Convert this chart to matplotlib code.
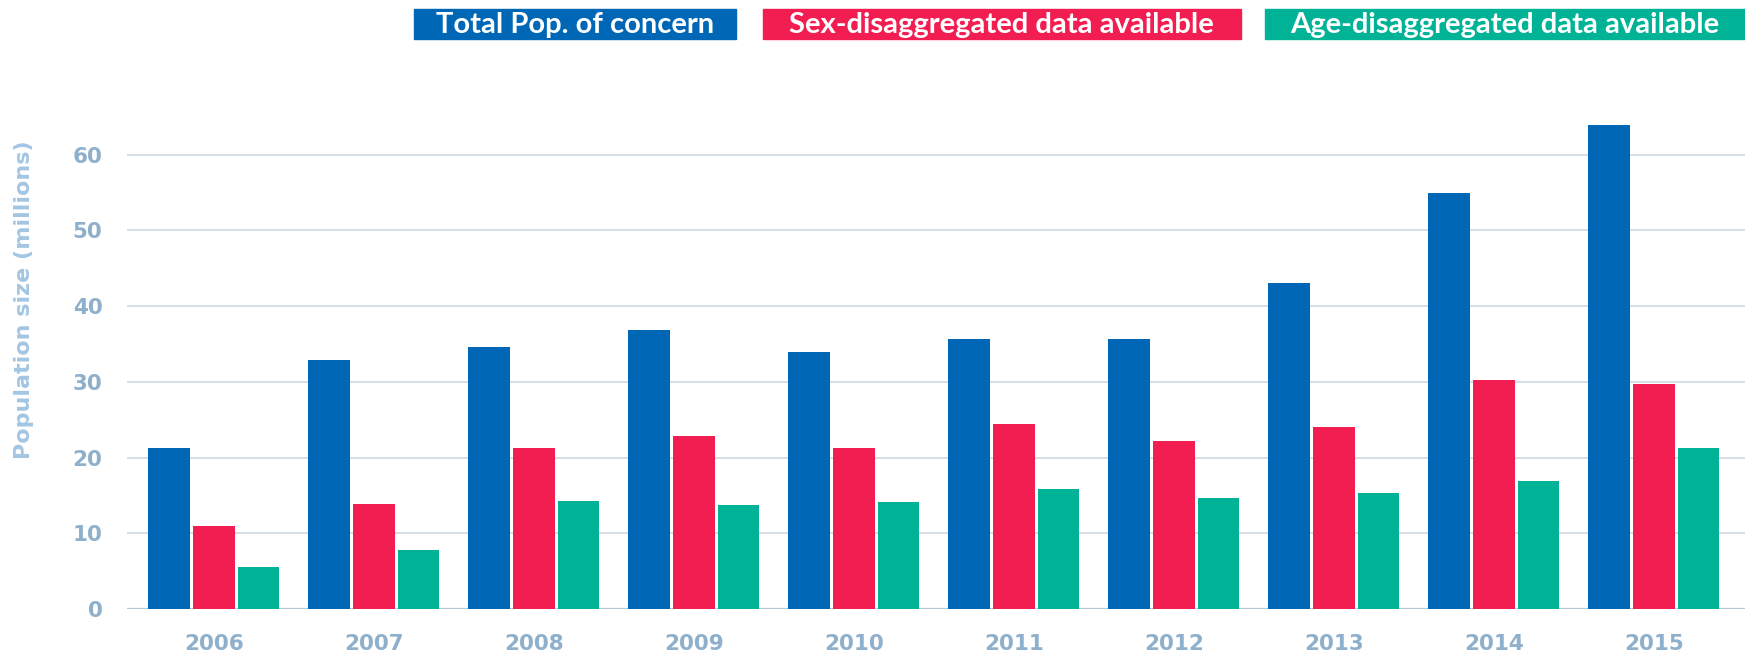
import numpy as np
import matplotlib
matplotlib.use("Agg")
import matplotlib.pyplot as plt
from matplotlib.patches import Rectangle

# %%
years = ["2006", "2007", "2008", "2009", "2010", "2011", "2012", "2013", "2014", "2015"]
total_pop = [21.2, 32.9, 34.6, 36.8, 34.0, 35.6, 35.6, 43.1, 54.9, 64.0]
sex_data = [11.0, 13.8, 21.2, 22.8, 21.2, 24.4, 22.2, 24.0, 30.3, 29.7]
age_data = [5.6, 7.8, 14.3, 13.7, 14.1, 15.9, 14.7, 15.3, 16.9, 21.2]
series_names = ["Total Pop. of concern", "Sex-disaggregated data available",
                "Age-disaggregated data available"]
yticks = [0, 10, 20, 30, 40, 50, 60]

blue = "#0067b6"
red = "#f21d51"
green = "#00b396"
tick_col = "#8fb0cc"
grid_col = "#cdd9e3"

plt.rcParams['font.family'] = ['DejaVu Sans']

# %%
fig = plt.figure(figsize=(17.45, 6.59), dpi=100)
ax = fig.add_axes([0.073, 0.076, 0.927, 0.758])

x = np.arange(len(years))
w = 0.26
step = 0.28
ax.bar(x - step, total_pop, w, color=blue, zorder=3)
ax.bar(x, sex_data, w, color=red, zorder=3)
ax.bar(x + step, age_data, w, color=green, zorder=3)

ax.set_xlim(-0.54, 9.57)
ax.set_ylim(0, 66)
ax.set_yticks(yticks)
ax.set_xticks(x)
ax.set_xticklabels(years)
ax.yaxis.grid(True, color=grid_col, linewidth=1.2, zorder=0)
ax.axhline(0, color="#b9c7d3", linewidth=1.6, zorder=2)
for s in ax.spines.values():
    s.set_visible(False)
ax.tick_params(axis="both", length=0, labelsize=15.5, labelcolor=tick_col)
ax.tick_params(axis="x", pad=18)
ax.tick_params(axis="y", pad=18)
for lab in ax.get_xticklabels() + ax.get_yticklabels():
    lab.set_fontweight("bold")

ax.set_ylabel("Population size (millions)", fontsize=16, color="#a3c6e3",
              fontweight="bold")
ax.yaxis.set_label_coords(-0.058, 0.62)

# legend boxes along the top
boxes = [(0.237, 0.185), (0.437, 0.274), (0.725, 0.275)]
for (bx, bw), name, col in zip(boxes, series_names, [blue, red, green]):
    fig.patches.append(Rectangle((bx, 0.941), bw, 0.045, transform=fig.transFigure,
                                 color=col, zorder=1))
    fig.text(bx + bw / 2, 0.962, name, ha="center", va="center", color="white",
             fontsize=21, fontweight="bold", family=['Lato', 'DejaVu Sans'])

fig.savefig("out.png", dpi=100)
